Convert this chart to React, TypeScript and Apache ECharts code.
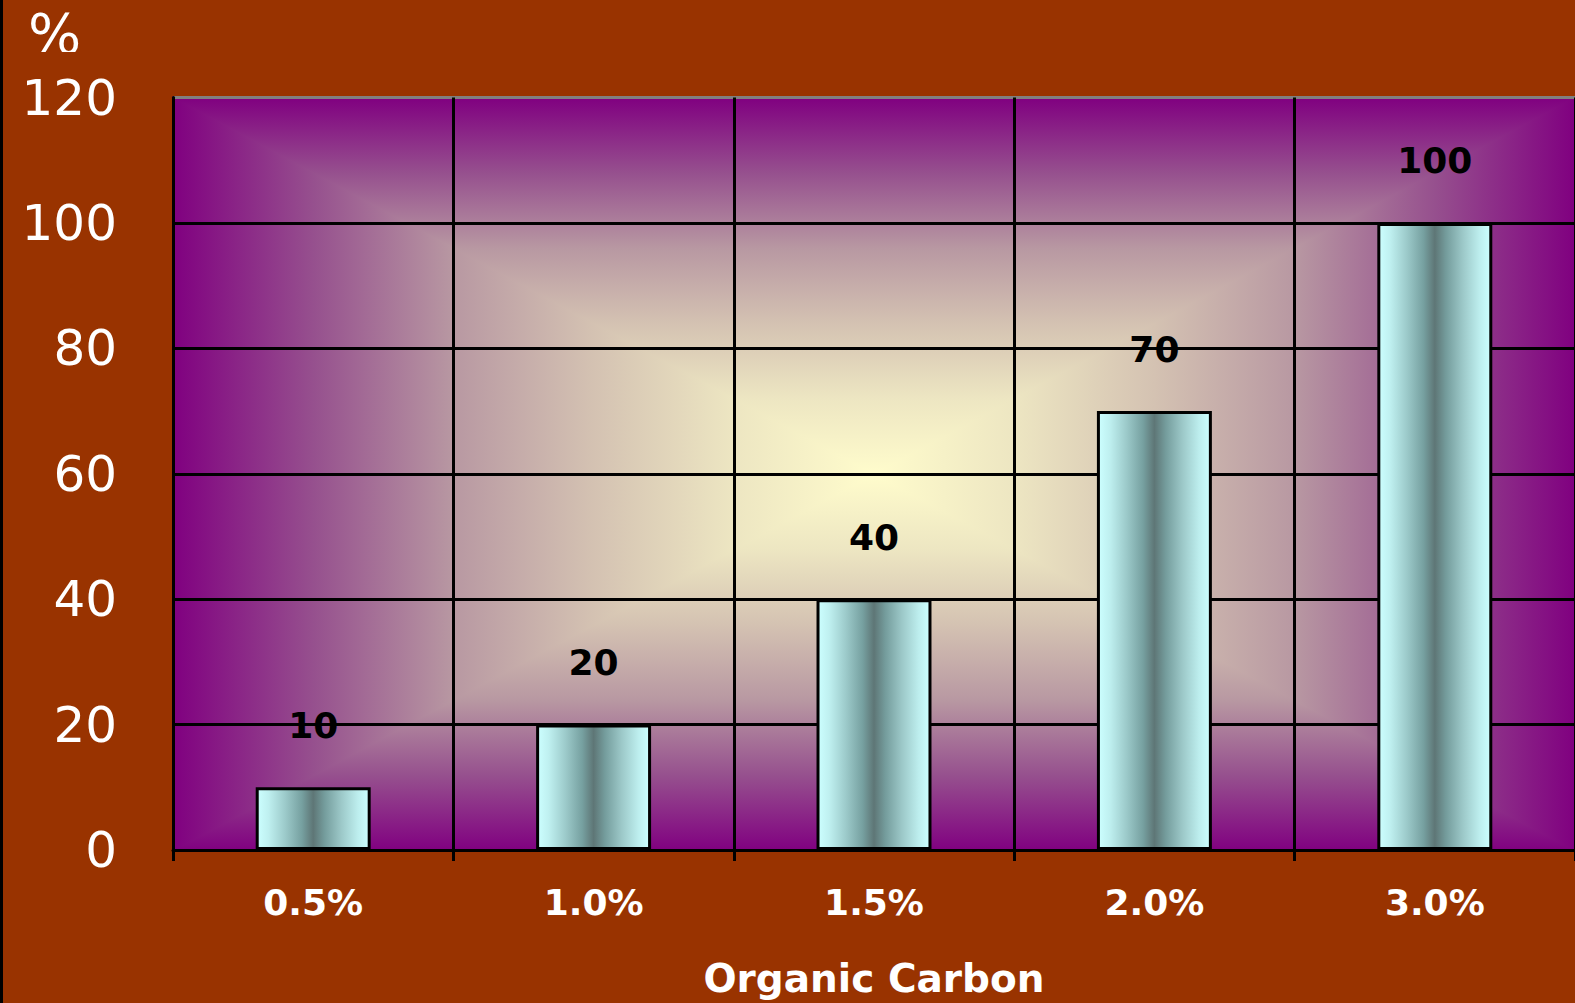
import React, { useEffect, useRef } from "react";
import * as echarts from "echarts";

// Share of the maximum, by soil organic carbon content
const categories = ["0.5%", "1.0%", "1.5%", "2.0%", "3.0%"];
const values = [10, 20, 40, 70, 100];
const yMin = 0;
const yMax = 120;
const yStep = 20;
const yUnit = "%";
const xTitle = "Organic Carbon";

const W = 1575;
const H = 1003;
const PLOT = { left: 173, top: 97.5, right: 1575, bottom: 851 };

const PAGE_BG = "#993300";
const FONT = '"DejaVu Sans", "Noto Sans", sans-serif';

// plot fill: purple at the edges fading to pale yellow in the middle
const edgeStops = [
  { offset: 0, color: "#800080" },
  { offset: 0.2, color: "#96508e" },
  { offset: 0.4, color: "#b898a2" },
  { offset: 0.6, color: "#d4c2b2" },
  { offset: 0.8, color: "#ede6c2" },
  { offset: 1, color: "#fffccc" },
];

// cylinder-like shading across each bar
const barStops = [
  { offset: 0, color: "#ccffff" },
  { offset: 0.1, color: "#bff0f0" },
  { offset: 0.25, color: "#9ccaca" },
  { offset: 0.4, color: "#76a0a0" },
  { offset: 0.5, color: "#5e7676" },
  { offset: 0.6, color: "#749c9c" },
  { offset: 0.75, color: "#9cc8c8" },
  { offset: 0.9, color: "#bdeeee" },
  { offset: 1, color: "#ccffff" },
];

// four triangles meeting in the middle, each shaded from its edge inwards
function plotBackground() {
  const { left: L, top: T, right: R, bottom: B } = PLOT;
  const cx = (L + R) / 2;
  const cy = (T + B) / 2;
  const tri = (points: number[][], x: number, y: number, x2: number, y2: number) => {
    const g = new echarts.graphic.LinearGradient(x, y, x2, y2, edgeStops);
    return {
      type: "polygon",
      z: -10,
      shape: { points },
      style: { fill: g, stroke: g, lineWidth: 1.5 },
    };
  };
  return [
    tri([[L, T], [R, T], [cx, cy]], 0, 0, 0, 1),
    tri([[L, B], [R, B], [cx, cy]], 0, 1, 0, 0),
    tri([[L, T], [L, B], [cx, cy]], 0, 0, 1, 0),
    tri([[R, T], [R, B], [cx, cy]], 1, 0, 0, 0),
  ];
}

export default function App() {
  const ref = useRef<HTMLDivElement>(null);

  useEffect(() => {
    if (!ref.current) return;
    const chart = echarts.init(ref.current, undefined, { renderer: "svg" });

    const gridLineColors = [
      "#000000",
      "#000000",
      "#000000",
      "#000000",
      "#000000",
      "#000000",
      "#808080",
    ];

    chart.setOption({
      animation: false,
      backgroundColor: PAGE_BG,
      grid: {
        left: PLOT.left,
        top: PLOT.top,
        right: W - PLOT.right,
        bottom: H - PLOT.bottom,
        containLabel: false,
      },
      graphic: [
        ...plotBackground(),
        {
          type: "text",
          z: 50,
          x: 28,
          y: 5,
          style: { text: yUnit, font: `56px ${FONT}`, fill: "#ffffff" },
        },
        {
          type: "rect",
          z: 60,
          shape: { x: 10, y: 52, width: 100, height: 18 },
          style: { fill: PAGE_BG },
        },
        {
          type: "rect",
          z: 100,
          shape: { x: 0, y: 0, width: 3, height: H },
          style: { fill: "#000000" },
        },
      ],
      xAxis: {
        type: "category",
        data: categories,
        boundaryGap: true,
        axisLine: { show: true, lineStyle: { color: "#000000", width: 3 } },
        axisTick: {
          show: true,
          interval: 0,
          length: 11,
          lineStyle: { color: "#000000", width: 3 },
        },
        axisLabel: {
          color: "#ffffff",
          fontFamily: FONT,
          fontWeight: "bold",
          fontSize: 36,
          margin: 34,
        },
        splitLine: {
          show: true,
          interval: 0,
          lineStyle: { color: "#000000", width: 3 },
        },
        name: xTitle,
        nameLocation: "middle",
        nameGap: 109,
        nameTextStyle: {
          color: "#ffffff",
          fontFamily: FONT,
          fontWeight: "bold",
          fontSize: 39,
        },
      },
      yAxis: {
        type: "value",
        min: yMin,
        max: yMax,
        interval: yStep,
        axisLine: { show: true, lineStyle: { color: "#000000", width: 3 } },
        axisTick: { show: false },
        axisLabel: {
          color: "#ffffff",
          fontFamily: FONT,
          fontSize: 50,
          margin: 56,
        },
        splitLine: {
          show: true,
          lineStyle: { color: gridLineColors, width: 3 },
        },
      },
      series: [
        {
          type: "bar",
          data: values,
          barWidth: "41%",
          itemStyle: {
            color: new echarts.graphic.LinearGradient(0, 0, 1, 0, barStops),
            borderColor: "#000000",
            borderWidth: 3,
          },
          label: {
            show: true,
            position: "top",
            distance: 44,
            color: "#000000",
            fontFamily: FONT,
            fontWeight: "bold",
            fontSize: 36,
          },
        },
      ],
    });

    return () => chart.dispose();
  }, []);

  return (
    <div
      ref={ref}
      style={{ position: "fixed", left: 0, top: 0, width: W, height: H }}
    />
  );
}
